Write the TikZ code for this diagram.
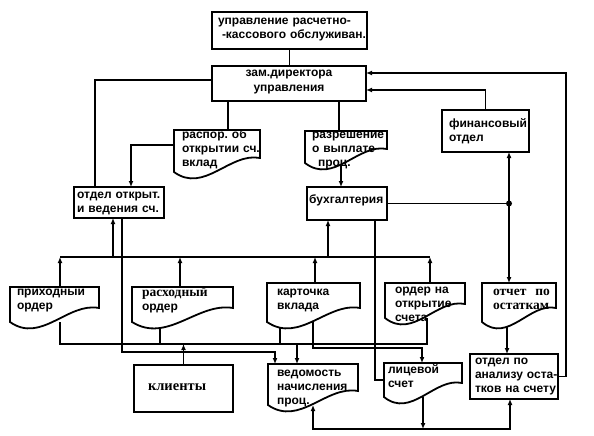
\documentclass[tikz,border=0pt]{standalone}
\usepackage{fontspec}
\setmainfont{Liberation Sans}
\newfontfamily\timesfont{Liberation Serif}
\usetikzlibrary{arrows.meta, positioning, calc}
\pgfdeclarelayer{background}
\pgfsetlayers{background,main}
\exhyphenpenalty=10000

% document shape: box with a wavy bottom edge
\newdimen\docxa \newdimen\docya \newdimen\docxb \newdimen\docyb \newdimen\docwave
\makeatletter
\pgfdeclareshape{docshape}{%
  \inheritsavedanchors[from=rectangle]%
  \inheritanchorborder[from=rectangle]%
  \inheritanchor[from=rectangle]{center}%
  \inheritanchor[from=rectangle]{north}%
  \inheritanchor[from=rectangle]{south}%
  \inheritanchor[from=rectangle]{west}%
  \inheritanchor[from=rectangle]{east}%
  \inheritanchor[from=rectangle]{north west}%
  \inheritanchor[from=rectangle]{north east}%
  \inheritanchor[from=rectangle]{south west}%
  \inheritanchor[from=rectangle]{south east}%
  \backgroundpath{%
    \southwest \docxa=\pgf@x \docya=\pgf@y
    \northeast \docxb=\pgf@x \docyb=\pgf@y
    \docwave=\docxb \advance\docwave by -\docxa \docwave=0.35\docwave
    \pgfpathmoveto{\pgfqpoint{\docxa}{\docya}}%
    \pgfpathlineto{\pgfqpoint{\docxa}{\docyb}}%
    \pgfpathlineto{\pgfqpoint{\docxb}{\docyb}}%
    \pgfpathlineto{\pgfpointadd{\pgfqpoint{\docxb}{\docya}}{\pgfqpoint{0pt}{14pt}}}%
    \pgfpathcurveto{\pgfpointadd{\pgfqpoint{\docxb}{\docya}}{\pgfqpoint{-\docwave}{20pt}}}%
                   {\pgfpointadd{\pgfqpoint{\docxa}{\docya}}{\pgfqpoint{\docwave}{-22pt}}}%
                   {\pgfqpoint{\docxa}{\docya}}%
    \pgfpathclose
  }%
}
\makeatother

\begin{document}
\begin{tikzpicture}[x=1pt, y=1pt,
    >={Latex[length=6pt,width=5pt]},
    box_node/.style={rectangle, draw, fill=white, line width=1.8pt, outer sep=0pt,
        inner ysep=0pt, align=left, anchor=north west, font=\bfseries\fontsize{12}{14}\selectfont},
    doc_node/.style={box_node, shape=docshape},
    serif_text/.style={font=\bfseries\timesfont\fontsize{13.5}{14}\selectfont},
    link/.style={line width=1.5pt},
    ]
    \useasboundingbox (0,0) rectangle (594,-436);

    % Boxes
    \node[box_node, text width=143pt, inner xsep=6pt, text height=13pt, text depth=24pt] (uprav) at (212,-12)
        {управление~расчетно-\\\hspace*{4pt}-кассового~обслуживан.};
    \node[box_node, align=center, text width=146pt, inner xsep=4pt, text height=11pt, text depth=24pt] (zam) at (212,-66)
        {зам.директора\\управления};
    \node[doc_node, text width=70pt, inner xsep=8pt, text height=8pt, text depth=34pt] (raspor) at (174,-130)
        {распор.~об\\открытии~сч.\\вклад};
    \node[doc_node, text width=68pt, inner xsep=7pt, text height=7pt, text depth=25pt] (razresh) at (305,-131)
        {разрешение\\о~выплате\\\hspace*{6pt}проц.};
    \node[box_node, text width=84pt, inner xsep=3pt, text height=11pt, text depth=20pt] (otdelotkr) at (74,-187)
        {отдел~открыт.\\и~ведения~сч.};
    \node[box_node, text width=76pt, inner xsep=2pt, text height=16pt, text depth=17pt] (buh) at (307,-187)
        {бухгалтерия};
    \node[box_node, text width=73pt, inner xsep=7pt, text height=17pt, text depth=25pt] (fin) at (442,-110)
        {финансовый\\отдел};

    % Documents
    \node[doc_node, text width=75pt, inner xsep=7pt, text height=8pt, text depth=27pt] (prikhod) at (10,-287)
        {приходный\\ордер};
    \node[doc_node, text width=81pt, inner xsep=10pt, text height=9pt, text depth=26pt] (raskhod) at (132,-287)
        {{\timesfont\fontsize{13.5}{14}\selectfont расходный}\\ордер};
    \node[doc_node, text width=73pt, inner xsep=10pt, text height=12pt, text depth=27pt] (kartochka) at (267,-283)
        {карточка\\вклада};
    \node[doc_node, text width=60pt, inner xsep=10pt, text height=10pt, text depth=25pt] (ordernaotkr) at (385,-283)
        {ордер~на\\открытие\\счета};
    \node[doc_node, serif_text, text width=52pt, inner xsep=11pt, text height=12pt, text depth=27pt] (otchet) at (482,-283)
        {отчет~~по\\остаткам};
    \node[doc_node, text width=72pt, inner xsep=9pt, text height=12pt, text depth=29pt] (vedomost) at (268,-364)
        {ведомость\\начисления\\проц.};
    \node[doc_node, text width=70pt, inner xsep=4pt, text height=10pt, text depth=24pt] (licevoy) at (384,-363)
        {лицевой\\счет};
    \node[box_node, text width=78pt, inner xsep=5pt, text height=10pt, text depth=35pt] (analiz) at (470,-354)
        {отдел~по\\анализу~оста-\\тков~на~счету};
    \node[box_node, font=\bfseries\timesfont\fontsize{14.5}{15}\selectfont, text width=71pt, inner xsep=14pt, text height=25pt, text depth=22pt] (klienty) at (134,-365)
        {клиенты};

    \coordinate (junc) at ($(fin.south west |- buh.east)+(67,0)$);

    % Connections
    \begin{pgfonlayer}{background}
    \draw[link] (uprav.south) -- (uprav.south |- zam.north);
    \draw[link] ([yshift=3.5pt]zam.west) -| ([xshift=21pt]otdelotkr.north west);
    \draw[link] ([xshift=16pt]zam.south west) -- ([xshift=54pt]raspor.north west);
    \draw[link] ([xshift=127pt]zam.south west) -- ([xshift=34pt]razresh.north west);
    \draw[->, link] ([yshift=6pt]raspor.west) -| ([xshift=57pt]otdelotkr.north west);
    \draw[->, link] ([xshift=36pt]razresh.south west) -- ([xshift=34pt]buh.north west);

    \draw[link] (buh.east) -- (junc);
    \draw[->, link] (junc) -- (junc |- fin.south);
    \draw[->, link] (junc) -- (junc |- otchet.north);
    \draw[->, link] (fin.north) |- ([yshift=-6.5pt]zam.east);
    \draw[->, link] (analiz.east) -- ++(8,0) |- ([yshift=10.5pt]zam.east);
    \draw[->, link] ([xshift=25pt]otchet.south west) -- ([xshift=37pt]analiz.north west);

    % upper line
    \draw[->, link] ([xshift=50pt]prikhod.north west) -- ++(0,30);
    \draw[->, link] ([xshift=48pt]raskhod.north west) -- ++(0,30);
    \draw[->, link] ([xshift=48pt]kartochka.north west) -- ++(0,26);
    \draw[->, link] ([xshift=45pt]ordernaotkr.north west) -- ++(0,26);
    \draw[link] ([xshift=50pt,yshift=30pt]prikhod.north west) -- ([xshift=45pt,yshift=26pt]ordernaotkr.north west);
    \draw[->, link] ([xshift=39pt,yshift=-39pt]otdelotkr.south west) -- ([xshift=39pt]otdelotkr.south west);
    \draw[->, link] ([xshift=21pt,yshift=-37pt]buh.south west) -- ([xshift=21pt]buh.south west);

    % lower line
    \draw[link] ([xshift=50pt]prikhod.south west) -- ++(0,-22) -| ([xshift=42pt]ordernaotkr.south west);
    \draw[link] ([xshift=28pt]raskhod.south west) -- ++(0,-22);
    \draw[link] ([xshift=13pt]kartochka.south west) -- ++(0,-22);
    \draw[->, link] (klienty.north) -- ++(0,21);
    \draw[->, link] ([xshift=29pt,yshift=20pt]vedomost.north west) -- ([xshift=29pt]vedomost.north west);
    \draw[->, link] ([xshift=48pt]otdelotkr.south west) |- ([xshift=7pt,yshift=12pt]vedomost.north west) -- ([xshift=7pt]vedomost.north west);
    \draw[link] ([xshift=68pt]buh.south west) |- (licevoy.west);
    \draw[->, link] ([xshift=46pt]kartochka.south west) -- ++(0,-26) -| ([xshift=38pt]licevoy.north west);

    % bottom line
    \draw[->, link] ([xshift=39pt]licevoy.south west) -- ++(0,-32);
    \draw[<->, link] ([xshift=45pt]vedomost.south west) |- ([xshift=40pt,yshift=-30pt]analiz.south west) -- ([xshift=40pt]analiz.south west);
    \fill (junc) circle (3pt);
    \end{pgfonlayer}
\end{tikzpicture}
\end{document}
